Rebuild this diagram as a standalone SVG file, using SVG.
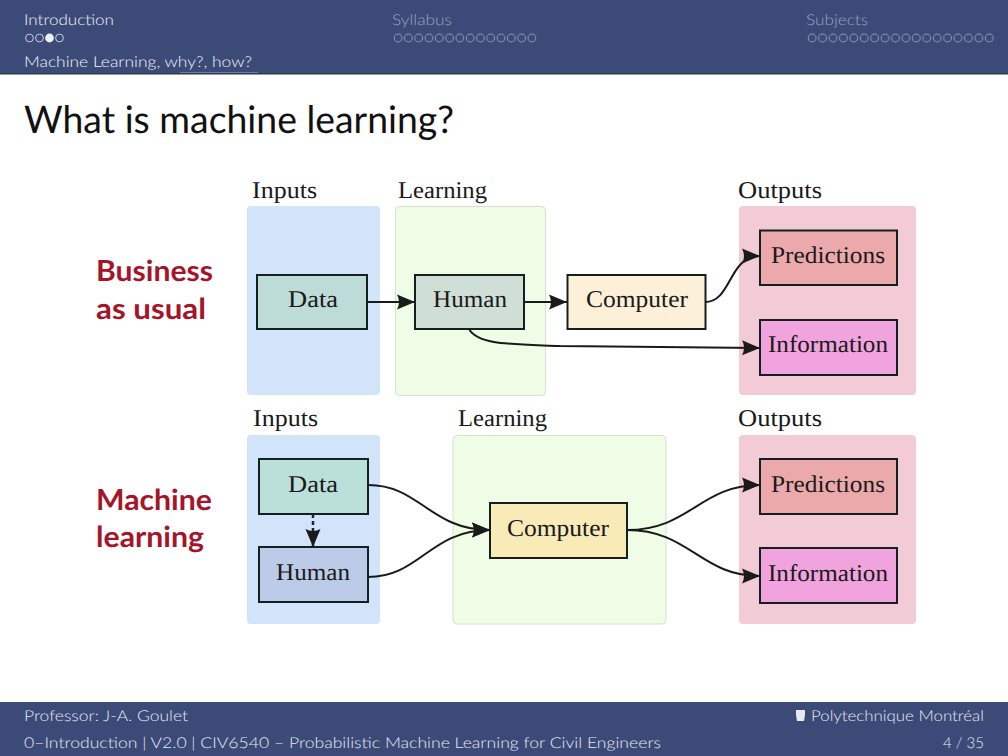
<svg xmlns="http://www.w3.org/2000/svg" width="1008" height="756" viewBox="0 0 1008 756">
<style>
.bar{fill:#3c4a78}
text{text-rendering:geometricPrecision}
.nav{font:300 15px "Lato","Liberation Sans",sans-serif;fill:#f2f4f9}
.dim{fill:#97a1c0}
.foot{font:300 15px "Lato","Liberation Sans",sans-serif;fill:#e6e9f2}
.lab{font:24px "Liberation Serif",serif;fill:#1a1a1a}
.node{font:24px "Liberation Serif",serif;fill:#1a1a1a}
.big{font:bold 29px "Lato","Liberation Sans",sans-serif;fill:#a5152a}
.box{stroke:#14201f;stroke-width:2}
.blue{fill:#d1e4fa}.green{fill:#f0fde6;stroke:#d5e2cf;stroke-width:1}.pink{fill:#f3cbd7}
.c{fill:none;stroke:#1a1a1a;stroke-width:2}
.dash{stroke:#14263a;stroke-width:2.500}
.dot{fill:none;stroke:#c9cfe0;stroke-width:1}
.dotd{fill:none;stroke:#8d97b8;stroke-width:1}
</style>
<defs>
<marker id="a" markerUnits="userSpaceOnUse" markerWidth="22" markerHeight="18" refX="19" refY="9" orient="auto">
<path d="M1 1.500L19 9L1 16.500Q5 9 1 1.500Z" fill="#1a1a1a"/>
</marker>
<pattern id="nd1" x="393" y="32" width="10.290" height="12" patternUnits="userSpaceOnUse"><circle cx="5.100" cy="6" r="3.900" class="dotd"/></pattern>
<pattern id="nd2" x="807" y="32" width="10.420" height="12" patternUnits="userSpaceOnUse"><circle cx="5.100" cy="6" r="3.900" class="dotd"/></pattern>
</defs>
<rect width="1008" height="756" fill="#fff"/>
<g id="header">
<rect class="bar" width="1008" height="74"/>
<rect y="73" width="1008" height="1.500" fill="#2d3a50"/>
<rect x="180" y="72" width="78" height="1" fill="#6f7ba0"/>
<text class="nav" x="24" y="25" textLength="90" lengthAdjust="spacingAndGlyphs">Introduction</text>
<text class="nav" x="24" y="67" textLength="228" lengthAdjust="spacingAndGlyphs">Machine Learning, why?, how?</text>
<text class="nav dim" x="392" y="25" textLength="60" lengthAdjust="spacingAndGlyphs">Syllabus</text>
<text class="nav dim" x="806" y="25" textLength="62" lengthAdjust="spacingAndGlyphs">Subjects</text>
<circle class="dot" cx="29.500" cy="38" r="3.900"/><circle class="dot" cx="39.500" cy="38" r="3.900"/><circle cx="49.500" cy="38" r="4.400" fill="#eef0f6"/><circle class="dot" cx="59.500" cy="38" r="3.900"/>
<rect x="393" y="32" width="144" height="12" fill="url(#nd1)"/>
<rect x="807" y="32" width="188" height="12" fill="url(#nd2)"/>
</g>
<text id="title" x="24" y="133" font-family="Lato,'Liberation Sans',sans-serif" font-size="38" font-weight="400" fill="#111" textLength="430" lengthAdjust="spacingAndGlyphs">What is machine learning?</text>
<g id="row-labels">
<text class="big" x="96" y="281" textLength="117" lengthAdjust="spacingAndGlyphs">Business</text>
<text class="big" x="96" y="319" textLength="110" lengthAdjust="spacingAndGlyphs">as usual</text>
<text class="big" x="96" y="510" textLength="116" lengthAdjust="spacingAndGlyphs">Machine</text>
<text class="big" x="96" y="547" textLength="108" lengthAdjust="spacingAndGlyphs">learning</text>
</g>
<g id="panels">
<rect class="blue" x="247" y="206" width="133" height="189" rx="4"/>
<rect class="green" x="395.500" y="206.500" width="150" height="189" rx="4"/>
<rect class="pink" x="739" y="206" width="177" height="189" rx="4"/>
<rect class="blue" x="247" y="435" width="133" height="189" rx="4"/>
<rect class="green" x="453" y="435.500" width="213" height="188.500" rx="4"/>
<rect class="pink" x="739" y="435" width="177" height="189" rx="4"/>
<text class="lab" x="252" y="198" textLength="65" lengthAdjust="spacingAndGlyphs">Inputs</text>
<text class="lab" x="398" y="198" textLength="89" lengthAdjust="spacingAndGlyphs">Learning</text>
<text class="lab" x="738" y="198" textLength="84" lengthAdjust="spacingAndGlyphs">Outputs</text>
<text class="lab" x="253" y="426" textLength="65" lengthAdjust="spacingAndGlyphs">Inputs</text>
<text class="lab" x="458" y="426" textLength="89" lengthAdjust="spacingAndGlyphs">Learning</text>
<text class="lab" x="738" y="426" textLength="84" lengthAdjust="spacingAndGlyphs">Outputs</text>
</g>
<g id="connectors">
<path class="c" marker-end="url(#a)" d="M367 302H415"/>
<path class="c" marker-end="url(#a)" d="M524 302H567"/>
<path class="c" marker-end="url(#a)" d="M705 302C732 302 728 256 760 256"/>
<path class="c" marker-end="url(#a)" d="M469 329C478 345 510 344 560 346L760 348"/>
<path class="c dash" stroke-dasharray="4 3" marker-end="url(#a)" d="M313 514V547"/>
<path class="c" marker-end="url(#a)" d="M368 485C420 485 430 530 490 530"/>
<path class="c" marker-end="url(#a)" d="M368 577C420 577 430 530 490 530"/>
<path class="c" marker-end="url(#a)" d="M627 530C690 530 700 485 760 485"/>
<path class="c" marker-end="url(#a)" d="M627 530C690 530 700 576 760 576"/>
</g>
<g id="n-data1"><rect class="box" x="257" y="275" width="110" height="54" fill="#bedcd7"/><text class="node" x="288" y="307" textLength="50" lengthAdjust="spacingAndGlyphs">Data</text></g>
<g id="n-human1"><rect class="box" x="415" y="275" width="109" height="54" fill="#cfdfd6"/><text class="node" x="433" y="307" textLength="74" lengthAdjust="spacingAndGlyphs">Human</text></g>
<g id="n-computer1"><rect class="box" x="567.500" y="275" width="138" height="54" fill="#fcf0d8"/><text class="node" x="586" y="307" textLength="102" lengthAdjust="spacingAndGlyphs">Computer</text></g>
<g id="n-pred1"><rect class="box" x="760" y="230.500" width="137" height="54.500" fill="#eba9ab"/><text class="node" x="771" y="263" textLength="114" lengthAdjust="spacingAndGlyphs">Predictions</text></g>
<g id="n-info1"><rect class="box" x="760" y="320" width="137" height="55" fill="#f1a3dd"/><text class="node" x="768" y="352" textLength="120" lengthAdjust="spacingAndGlyphs">Information</text></g>
<g id="n-data2"><rect class="box" x="259" y="459" width="109" height="55" fill="#bbdfd9"/><text class="node" x="288" y="492" textLength="50" lengthAdjust="spacingAndGlyphs">Data</text></g>
<g id="n-human2"><rect class="box" x="259" y="547" width="109" height="55" fill="#bccce8"/><text class="node" x="276" y="580" textLength="74" lengthAdjust="spacingAndGlyphs">Human</text></g>
<g id="n-computer2"><rect class="box" x="490" y="503" width="137" height="55" fill="#f8ebb8"/><text class="node" x="507" y="536" textLength="102" lengthAdjust="spacingAndGlyphs">Computer</text></g>
<g id="n-pred2"><rect class="box" x="760" y="459" width="137" height="55" fill="#eba9ab"/><text class="node" x="771" y="492" textLength="114" lengthAdjust="spacingAndGlyphs">Predictions</text></g>
<g id="n-info2"><rect class="box" x="760" y="548" width="137" height="55" fill="#f1a3dd"/><text class="node" x="768" y="581" textLength="120" lengthAdjust="spacingAndGlyphs">Information</text></g>
<g id="footer">
<rect class="bar" y="702" width="1008" height="54"/>
<text class="foot" x="24" y="721" textLength="164" lengthAdjust="spacingAndGlyphs">Professor: J-A. Goulet</text>
<path d="M796 710h9v5l-1 6h-7l-1-6z" fill="#e8eaf2"/>
<text class="foot" x="811" y="721" textLength="173" lengthAdjust="spacingAndGlyphs">Polytechnique Montréal</text>
<text class="foot" x="24" y="748" textLength="637" lengthAdjust="spacingAndGlyphs">0–Introduction | V2.0 | CIV6540 – Probabilistic Machine Learning for Civil Engineers</text>
<text class="foot" x="943" y="748" textLength="41" lengthAdjust="spacingAndGlyphs">4 / 35</text>
</g>
</svg>
